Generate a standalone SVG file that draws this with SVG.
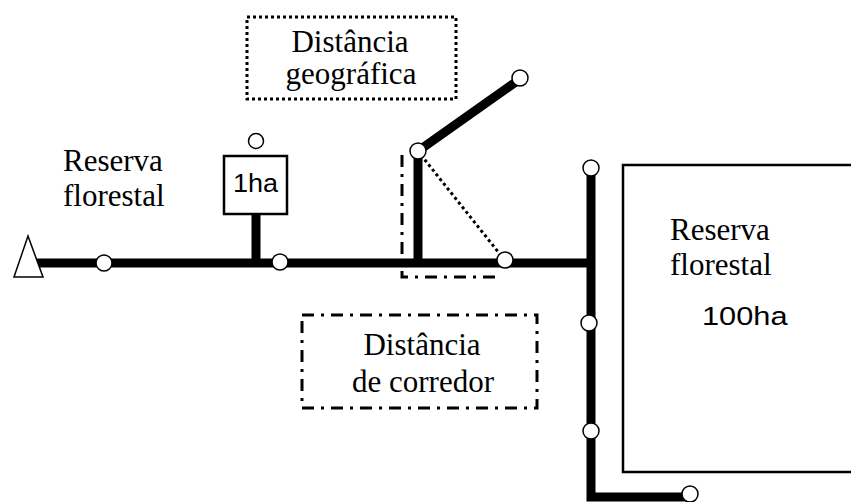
<svg xmlns="http://www.w3.org/2000/svg" width="851" height="502" viewBox="0 0 851 502">
  <style>
    .road { fill: none; stroke: #000; stroke-width: 9; stroke-linecap: butt; stroke-linejoin: miter; }
    .node { fill: #fff; stroke: #000; stroke-width: 1.5; }
    .serif { font-family: "Liberation Serif", "Times New Roman", serif; font-size: 31px; fill: #000; }
    .sans { font-family: "Liberation Sans", Arial, sans-serif; font-size: 25px; fill: #000; }
    .dotted { fill: none; stroke: #000; stroke-width: 3; stroke-dasharray: 3 3; }
    .dashdot { fill: none; stroke: #000; stroke-width: 3; stroke-dasharray: 12 7 3 7; }
  </style>

  <!-- large forest reserve block -->
  <g id="reserve-large">
    <rect x="623" y="165" width="240" height="307" fill="#fff" stroke="#000" stroke-width="2.5"/>
    <text class="serif" x="670" y="240">Reserva</text>
    <text class="serif" x="670" y="275">florestal</text>
    <text class="sans" transform="translate(702 325) scale(1.23 1)">100ha</text>
  </g>

  <!-- left reserve label -->
  <g id="reserve-left">
    <text class="serif" x="63" y="171">Reserva</text>
    <text class="serif" x="63" y="206">florestal</text>
  </g>

  <!-- distance boxes -->
  <g id="geo-distance">
    <rect class="dotted" x="247" y="17" width="209" height="82" stroke-width="3.5"/>
    <text class="serif" x="350" y="52" text-anchor="middle">Distância</text>
    <text class="serif" x="351" y="84" text-anchor="middle">geográfica</text>
  </g>
  <g id="corridor-distance">
    <rect class="dashdot" x="302" y="315" width="235" height="93"/>
    <text class="serif" x="422" y="355" text-anchor="middle">Distância</text>
    <text class="serif" x="423" y="392" text-anchor="middle">de corredor</text>
  </g>

  <!-- connectors -->
  <g id="connectors">
    <path class="road" d="M36,263 H591"/>
    <path class="road" d="M256,214 V263"/>
    <path class="road" d="M418,263 V151 L520,79"/>
    <path class="road" d="M591,168 V497 H690"/>
    <path class="dotted" d="M421,155 L503,258" stroke-width="3.5"/>
    <path class="dashdot" d="M402,155 V277 H500"/>
  </g>

  <!-- small patch -->
  <g id="patch-1ha">
    <rect x="224" y="156" width="63" height="58" fill="#fff" stroke="#000" stroke-width="2.5"/>
    <text class="sans" transform="translate(233 192) scale(1.08 1)">1ha</text>
  </g>

  <!-- start marker -->
  <g id="start">
    <polygon points="28,236 14,277 43,277" fill="#fff" stroke="#000" stroke-width="1.5"/>
  </g>

  <!-- junction nodes -->
  <g id="nodes">
    <circle class="node" cx="104" cy="263" r="8"/>
    <circle class="node" cx="280" cy="262" r="8"/>
    <circle class="node" cx="256" cy="141" r="7.5"/>
    <circle class="node" cx="418" cy="151" r="8"/>
    <circle class="node" cx="520" cy="78" r="8"/>
    <circle class="node" cx="505" cy="260" r="8"/>
    <circle class="node" cx="591" cy="168" r="8"/>
    <circle class="node" cx="589" cy="323" r="8"/>
    <circle class="node" cx="591" cy="431" r="8"/>
    <circle class="node" cx="690" cy="494" r="8"/>
  </g>
</svg>
